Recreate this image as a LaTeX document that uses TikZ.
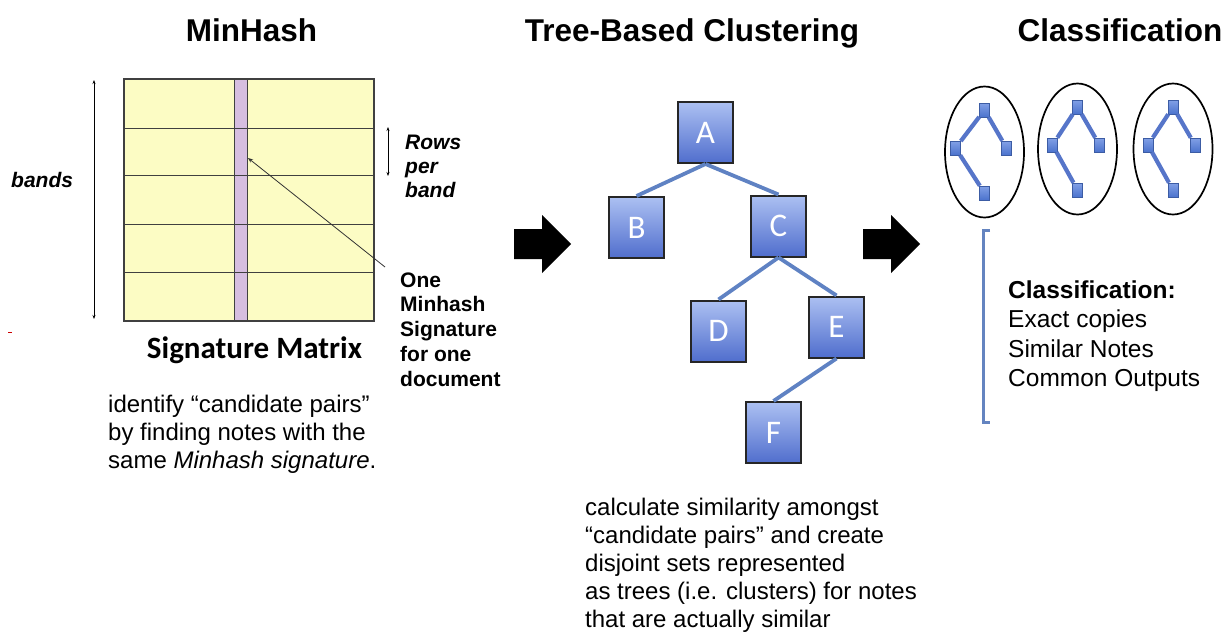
\documentclass[tikz,border=0pt]{standalone}
\usepackage{fontspec}
\setmainfont{Liberation Sans}
\newfontfamily\carlito{Carlito}
\usetikzlibrary{shapes.geometric,arrows.meta}
\definecolor{matfill}{RGB}{252,252,196}
\definecolor{colfill}{RGB}{214,190,224}
\definecolor{edgeblue}{RGB}{95,130,195}
\definecolor{nodetop}{RGB}{172,192,242}
\definecolor{nodebot}{RGB}{80,110,205}
\definecolor{minitop}{RGB}{130,160,230}
\definecolor{minibot}{RGB}{75,115,205}
\definecolor{brackblue}{RGB}{100,132,192}
\newcommand{\mlines}[1]{\begin{tabular}[t]{@{}l@{}}#1\end{tabular}}
\tikzset{
  titletext/.style={anchor=base, inner sep=0pt, font=\fontsize{31.5}{36}\selectfont\bfseries},
  bodytext/.style={anchor=base west, inner sep=0pt, font=\fontsize{24}{28}\selectfont},
  treenode/.style={draw=black!85, line width=2pt, minimum width=55pt, minimum height=61pt,
    top color=nodetop, bottom color=nodebot, text=white, inner sep=0pt,
    font=\carlito\fontsize{33}{36}\selectfont},
  treeedge/.style={draw=edgeblue, line width=3.8pt},
  cluster/.style={ellipse, draw=black, line width=1.7pt, minimum width=79pt, minimum height=131pt, inner sep=0pt},
  mininode/.style={draw=minibot!80!black, line width=0.6pt, minimum width=10pt, minimum height=14pt, inner sep=0pt,
    top color=minitop, bottom color=minibot},
  miniedge/.style={draw=edgeblue!90!blue, line width=4.2pt},
  bigarrow/.style={fill=black},
  dimarrow/.style={{Stealth[length=4pt,width=3pt]}-{Stealth[length=4pt,width=3pt]}, line width=0.8pt}
}
\begin{document}
\begin{tikzpicture}[x=1pt,y=-1pt]
\useasboundingbox (0,0) rectangle (1228,642);

% titles
\node[titletext] (t1) at (251.5,42) {MinHash};
\node[titletext] (t2) at (692,42) {Tree-Based Clustering};
\node[titletext] (t3) at (1120,42) {Classification};

% signature matrix
\fill[matfill] (124,79) rectangle (374,321);
\fill[colfill] (234,79) rectangle (247,321);
\draw[black!75, line width=1pt] (234,79) -- (234,321) (247,79) -- (247,321);
\foreach \yy in {128,175,224,272} \draw[black!75, line width=1pt] (124,\yy) -- (374,\yy);
\draw[black!75, line width=1.2pt] (124,79) rectangle (374,321);

% bands arrow
\coordinate (bt) at (94,80);
\coordinate (bb) at (94,319);
\draw[dimarrow] (bt) -- (bb);
\node[anchor=base west, inner sep=0pt, font=\fontsize{21}{24}\selectfont\bfseries\itshape] (bands) at (11,187) {bands};

% rows per band
\coordinate (rt) at (388,127);
\coordinate (rb) at (388,176);
\draw[dimarrow] (rt) -- (rb);
\node[anchor=base west, inner sep=0pt, font=\fontsize{21}{24}\selectfont\bfseries\itshape] (rpb) at (405,149.5) {\mlines{Rows\\per\\band}};

% pointer
\coordinate (ptr) at (385,267);
\coordinate (sig) at (248,158);
\draw[-{Stealth[length=5pt,width=4pt]}, line width=0.8pt, black!80] (ptr) -- (sig);
\node[anchor=base west, inner sep=0pt, font=\fontsize{21}{24.75}\selectfont\bfseries] (one) at (400,287) {\mlines{One\\Minhash\\Signature\\for one\\document}};

\node[anchor=base, inner sep=0pt, font=\carlito\fontsize{31}{34}\selectfont\bfseries] (sm) at (254.5,358) {Signature Matrix};
\node[bodytext] (p1) at (108,412) {\mlines{identify “candidate pairs”\\by finding notes with the\\same \textit{Minhash signature}.}};

% stray mark
\draw[red!80!black, line width=0.8pt] (8,332) -- (12,332);

% big arrows
\fill[bigarrow] (514,229) -- (542,229) -- (542,215) -- (571,244) -- (542,273) -- (542,259) -- (514,259) -- cycle;
\fill[bigarrow] (863,229) -- (891,229) -- (891,215) -- (920,244) -- (891,273) -- (891,259) -- (863,259) -- cycle;

% tree
\node[treenode] (A) at (705.5,132.5) {A};
\node[treenode] (B) at (636.5,227.5) {B};
\node[treenode] (C) at (778.5,226) {C};
\node[treenode] (D) at (718.5,331) {D};
\node[treenode] (E) at (836.5,327) {E};
\node[treenode] (F) at (773.5,432.5) {F};
\draw[treeedge] (A.south) -- (B.north);
\draw[treeedge] (A.south) -- (C.north);
\draw[treeedge] (C.south) -- (D.north);
\draw[treeedge] (C.south) -- (E.north);
\draw[treeedge] (E.south) -- (F.north);

\node[bodytext] (p2) at (585,515) {\mlines{calculate similarity amongst\\“candidate pairs” and create\\disjoint sets represented\\as trees (i.e. clusters) for notes\\that are actually similar}};

% clusters
\foreach \i/\cx/\cy/\lx in {1/984.5/152/-29, 2/1077.5/149/-25, 3/1173/149/-25} {
  \node[cluster] (e\i) at (\cx,\cy) {};
  \begin{scope}[shift={(\cx,\cy)}]
    \node[mininode] (r\i) at (0,-42) {};
    \node[mininode] (l\i) at (\lx,-4) {};
    \node[mininode] (q\i) at (22,-4) {};
    \node[mininode] (b\i) at (0,41) {};
  \end{scope}
  \draw[miniedge] (r\i) -- (l\i);
  \draw[miniedge] (r\i) -- (q\i);
  \draw[miniedge] (l\i) -- (b\i);
}

% bracket
\coordinate (k1) at (990,230);
\coordinate (k2) at (990,422);
\draw[brackblue, line width=3pt] (k1) -- ++(-7,0) |- (k2);

\node[anchor=base west, inner sep=0pt, font=\fontsize{24.5}{29.6}\selectfont] (cls) at (1008,298) {\mlines{\textbf{Classification:}\\Exact copies\\Similar Notes\\Common Outputs}};

\end{tikzpicture}
\end{document}
